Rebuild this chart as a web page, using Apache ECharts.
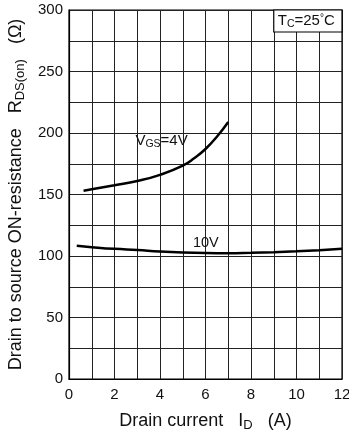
<!DOCTYPE html>
<html><head><meta charset="utf-8">
<script src="https://cdn.jsdelivr.net/npm/echarts@6/dist/echarts.min.js"></script>
<style>html,body{margin:0;padding:0;background:#fff}#c{width:349px;height:437px}</style>
</head><body><div id="c"></div>
<script>
// Drain current ID (A) vs RDS(on) (ohm)
const xTickLabels = [0, 2, 4, 6, 8, 10, 12];
const yTickLabels = [0, 50, 100, 150, 200, 250, 300];
const vgs4_id  = [0.64, 1, 2, 3, 4, 5, 5.5, 6, 6.5, 7];
const vgs4_r   = [153, 154.2, 157.5, 161, 166, 173.5, 179.5, 187, 197, 209];
const vgs10_id = [0.34, 1, 2, 3, 4, 5, 6, 7, 8, 9, 10, 11, 12];
const vgs10_r  = [108.3, 107.2, 105.8, 104.8, 103.6, 102.8, 102.4, 102.3, 102.6, 103.1, 103.8, 104.7, 105.8];
const seriesNames = ['VGS=4V', 'VGS=10V'];

const zip = (a, b) => a.map((v, i) => [v, b[i]]);
const FONT = 'Liberation Sans, Arial, sans-serif';
const chart = echarts.init(document.getElementById('c'), null, {renderer: 'canvas'});

const gridColor = '#222';
const option = {
  animation: false,
  backgroundColor: '#fff',
  grid: {left: 69, right: 7, top: 10, bottom: 58, show: true, borderColor: '#000', borderWidth: 1.2,
         containLabel: false, outerBoundsMode: 'none'},
  xAxis: {
    type: 'value', min: 0, max: 12, interval: 1,
    axisLine: {lineStyle: {color: '#000', width: 1.2}},
    axisTick: {show: false},
    splitLine: {show: true, lineStyle: {color: gridColor, width: 1}},
    axisLabel: {fontFamily: FONT, fontSize: 15, color: '#111', margin: 8,
      formatter: v => xTickLabels.includes(v) ? String(v) : ''},
    name: '{m|Drain current   I}{s|D}{m|   (A)}',
    nameLocation: 'middle', nameGap: 33,
    nameTextStyle: {fontFamily: FONT, color: '#111',
      rich: {m: {fontFamily: FONT, fontSize: 18, color: '#111', padding: [0,0,2,0]},
             s: {fontFamily: FONT, fontSize: 13, color: '#111', verticalAlign: 'bottom'}}}
  },
  yAxis: {
    type: 'value', min: 0, max: 300, interval: 25,
    axisLine: {show: true, lineStyle: {color: '#000', width: 1.2}},
    axisTick: {show: false},
    splitLine: {show: true, lineStyle: {color: gridColor, width: 1}},
    axisLabel: {fontFamily: FONT, fontSize: 15, color: '#111', margin: 6,
      formatter: v => yTickLabels.includes(v) ? String(v) : ''},
    name: '{m|Drain to source ON-resistance   R}{s|DS(on)}{m|   (Ω)}',
    nameLocation: 'middle', nameGap: 42, nameRotate: 90,
    nameTextStyle: {fontFamily: FONT, color: '#111',
      rich: {m: {fontFamily: FONT, fontSize: 18, color: '#111', padding: [0,0,2,0]},
             s: {fontFamily: FONT, fontSize: 13, color: '#111', verticalAlign: 'bottom'}}}
  },
  series: [
    {name: seriesNames[0], type: 'line', data: zip(vgs4_id, vgs4_r), smooth: 0.5, showSymbol: false,
     lineStyle: {color: '#000', width: 2.5}},
    {name: seriesNames[1], type: 'line', data: zip(vgs10_id, vgs10_r), smooth: 0.5, showSymbol: false,
     lineStyle: {color: '#000', width: 2.5}}
  ]
};
chart.setOption(option);

const p = (x, y) => chart.convertToPixel({gridIndex: 0}, [x, y]);
const a4 = p(2.92, 200);
const a10 = p(5.45, 117);
const boxL = p(9, 300), boxR = p(12, 300);
chart.setOption({
  graphic: [
    {type: 'text', left: a4[0], top: a4[1], style: {
      text: '{m|V}{s|GS}{m|=4V}', fill: '#111',
      rich: {m: {fontFamily: FONT, fontSize: 15, color: '#111', padding: [0,0,2,0]},
             s: {fontFamily: FONT, fontSize: 10.5, color: '#111', verticalAlign: 'bottom'}}}},
    {type: 'text', left: a10[0], top: a10[1], style: {
      text: '10V', fontFamily: FONT, fontSize: 14.5, fill: '#111'}},
    {type: 'rect', shape: {x: boxL[0], y: boxL[1], width: boxR[0] - boxL[0], height: 22},
     style: {fill: '#fff', stroke: '#000', lineWidth: 1.2}},
    {type: 'text', left: boxL[0] + 4, top: boxL[1] + 3, style: {
      text: '{m|T}{s|C}{m|=25}{d|°}{m|C}', fill: '#111',
      rich: {m: {fontFamily: FONT, fontSize: 15, color: '#111', padding: [0,0,2,0]},
             s: {fontFamily: FONT, fontSize: 10.5, color: '#111', verticalAlign: 'bottom'},
             d: {fontFamily: FONT, fontSize: 10, color: '#111', verticalAlign: 'top'}}}}
  ]
});
</script></body></html>
